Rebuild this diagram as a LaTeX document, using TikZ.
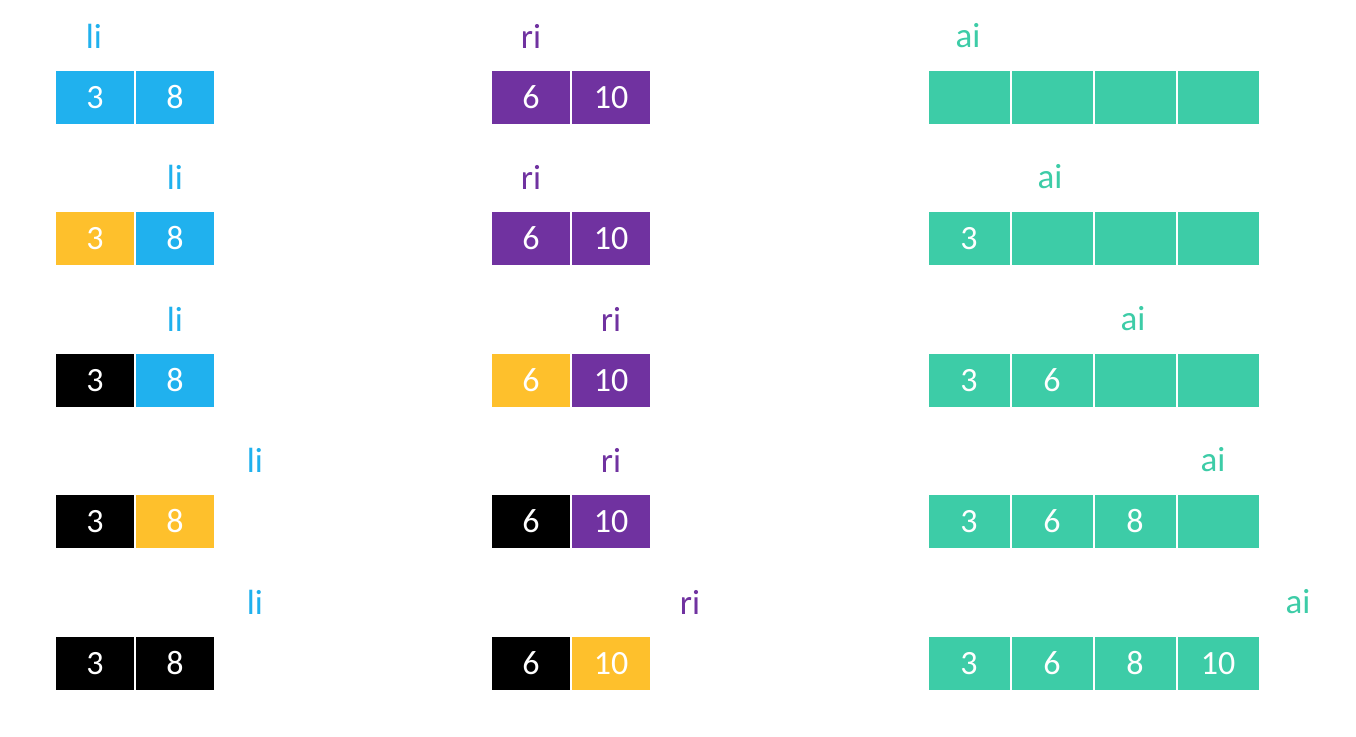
\documentclass[tikz,border=0pt]{standalone}
\usepackage{fontspec}
\setmainfont{Carlito}
\usepackage{tikz}
\usetikzlibrary{positioning}

\definecolor{liblue}{HTML}{20B1EE}
\definecolor{ripurple}{HTML}{7032A0}
\definecolor{aigreen}{HTML}{3DCCA7}
\definecolor{doneyellow}{HTML}{FEC02C}

\tikzset{
  cell/.style = {fill = #1, draw = white, line width = 2pt, minimum width = 80pt, minimum height = 55pt,
    inner sep = 0pt, outer sep = 0pt, text = white, text height = 22pt, text depth = 0pt,
    font = \fontsize{34}{38}\selectfont},
  acell/.style = {cell = aigreen, minimum width = 83pt},
  ptr/.style = {text = #1, font = \fontsize{35}{40}\selectfont, inner sep = 0pt}
}

\begin{document}
\begin{tikzpicture}[x = 1pt, y = -1pt]
\useasboundingbox (0,0) rectangle (1356,736);
% row 1
\node[ptr = liblue] (li1) at (94,36) {li};
\node[cell = liblue] (l1a) at (95,97) {3};
\node[cell = liblue, right = 0pt of l1a] (l1b) {8};
\node[ptr = ripurple] (ri1) at (531,36) {ri};
\node[cell = ripurple] (r1a) at (531,97) {6};
\node[cell = ripurple, right = 0pt of r1a] (r1b) {10};
\node[ptr = aigreen] (ai1) at (968,36) {ai};
\node[acell] (a1a) at (969,97) {};
\node[acell, right = 0pt of a1a] (a1b) {};
\node[acell, right = 0pt of a1b] (a1c) {};
\node[acell, right = 0pt of a1c] (a1d) {};
% row 2
\node[ptr = liblue] (li2) at (175,177) {li};
\node[cell = doneyellow] (l2a) at (95,238) {3};
\node[cell = liblue, right = 0pt of l2a] (l2b) {8};
\node[ptr = ripurple] (ri2) at (531,177) {ri};
\node[cell = ripurple] (r2a) at (531,238) {6};
\node[cell = ripurple, right = 0pt of r2a] (r2b) {10};
\node[ptr = aigreen] (ai2) at (1050,177) {ai};
\node[acell] (a2a) at (969,238) {3};
\node[acell, right = 0pt of a2a] (a2b) {};
\node[acell, right = 0pt of a2b] (a2c) {};
\node[acell, right = 0pt of a2c] (a2d) {};
% row 3
\node[ptr = liblue] (li3) at (175,319) {li};
\node[cell = black] (l3a) at (95,380) {3};
\node[cell = liblue, right = 0pt of l3a] (l3b) {8};
\node[ptr = ripurple] (ri3) at (611,319) {ri};
\node[cell = doneyellow] (r3a) at (531,380) {6};
\node[cell = ripurple, right = 0pt of r3a] (r3b) {10};
\node[ptr = aigreen] (ai3) at (1133,319) {ai};
\node[acell] (a3a) at (969,380) {3};
\node[acell, right = 0pt of a3a] (a3b) {6};
\node[acell, right = 0pt of a3b] (a3c) {};
\node[acell, right = 0pt of a3c] (a3d) {};
% row 4
\node[ptr = liblue] (li4) at (255,460) {li};
\node[cell = black] (l4a) at (95,521) {3};
\node[cell = doneyellow, right = 0pt of l4a] (l4b) {8};
\node[ptr = ripurple] (ri4) at (611,460) {ri};
\node[cell = black] (r4a) at (531,521) {6};
\node[cell = ripurple, right = 0pt of r4a] (r4b) {10};
\node[ptr = aigreen] (ai4) at (1213,460) {ai};
\node[acell] (a4a) at (969,521) {3};
\node[acell, right = 0pt of a4a] (a4b) {6};
\node[acell, right = 0pt of a4b] (a4c) {8};
\node[acell, right = 0pt of a4c] (a4d) {};
% row 5
\node[ptr = liblue] (li5) at (255,602) {li};
\node[cell = black] (l5a) at (95,663) {3};
\node[cell = black, right = 0pt of l5a] (l5b) {8};
\node[ptr = ripurple] (ri5) at (690,602) {ri};
\node[cell = black] (r5a) at (531,663) {6};
\node[cell = doneyellow, right = 0pt of r5a] (r5b) {10};
\node[ptr = aigreen] (ai5) at (1298,602) {ai};
\node[acell] (a5a) at (969,663) {3};
\node[acell, right = 0pt of a5a] (a5b) {6};
\node[acell, right = 0pt of a5b] (a5c) {8};
\node[acell, right = 0pt of a5c] (a5d) {10};
\end{tikzpicture}
\end{document}
